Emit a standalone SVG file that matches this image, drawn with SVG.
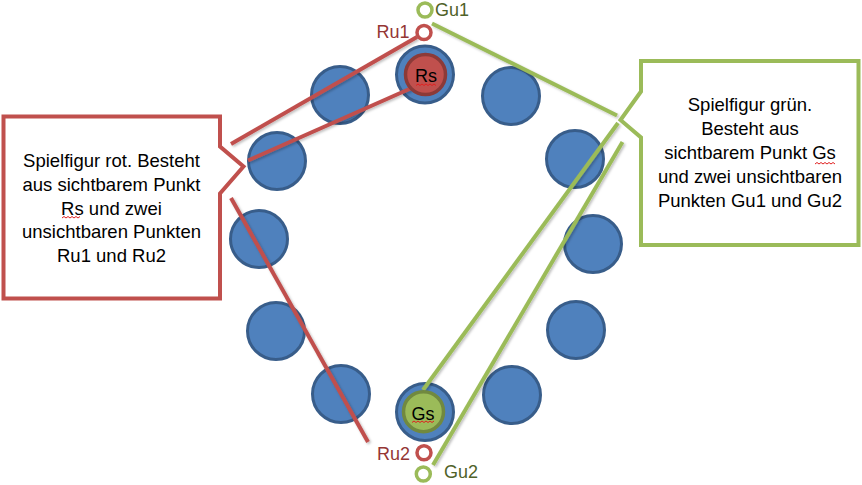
<svg xmlns="http://www.w3.org/2000/svg" width="862" height="485" viewBox="0 0 862 485">
<style>
.spot{fill:#4F81BD;stroke:#385D8A;stroke-width:3}
.rl{stroke:#C0504D;stroke-width:4;fill:none}
.gl{stroke:#9BBB59;stroke-width:4;fill:none}
.ring-r{fill:#FFFFFF;stroke:#C0504D;stroke-width:3.5}
.ring-g{fill:#FFFFFF;stroke:#9BBB59;stroke-width:3.5}
.lbl{font-family:"Liberation Sans",Arial,sans-serif;font-size:18px}
.txt{font-family:"Liberation Sans",Arial,sans-serif;font-size:18.5px;fill:#000;text-anchor:middle}
.sq{fill:none;stroke:#E02020;stroke-width:1}
</style>
<defs>
<filter id="sh" x="-10%" y="-10%" width="130%" height="130%">
<feDropShadow dx="1.5" dy="1.5" stdDeviation="1.2" flood-color="#000" flood-opacity="0.25"/>
</filter>
</defs>
<rect width="862" height="485" fill="#FFFFFF"/>
<g id="spots">
<circle class="spot" cx="425" cy="74.5" r="28.5"/>
<circle class="spot" cx="340" cy="95" r="28.5"/>
<circle class="spot" cx="511" cy="96" r="28.5"/>
<circle class="spot" cx="277" cy="161" r="28.5"/>
<circle class="spot" cx="575" cy="159" r="28.5"/>
<circle class="spot" cx="259" cy="239" r="28.5"/>
<circle class="spot" cx="593" cy="244" r="28.5"/>
<circle class="spot" cx="276" cy="331" r="28.5"/>
<circle class="spot" cx="576" cy="330" r="28.5"/>
<circle class="spot" cx="341" cy="394" r="28.5"/>
<circle class="spot" cx="512" cy="395" r="28.5"/>
<circle class="spot" cx="425" cy="412" r="28.5"/>
</g>
<g id="connectors" filter="url(#sh)">
<line class="rl" x1="231" y1="144" x2="417" y2="37"/>
<line class="rl" x1="248" y1="160.5" x2="410.5" y2="88.5"/>
<line class="rl" x1="231" y1="198" x2="368" y2="442"/>
<line class="gl" x1="432" y1="23.5" x2="617" y2="115.5"/>
<line class="gl" x1="423" y1="390" x2="618" y2="123"/>
<line class="gl" x1="433" y1="465" x2="622.5" y2="142"/>
</g>
<g id="Rs">
<circle cx="425.5" cy="74.5" r="20" fill="#C0504D" stroke="#8C3A38" stroke-width="3.5"/>
<text class="lbl" x="426" y="81.5" font-size="17" text-anchor="middle" fill="#000">Rs</text>
<path class="sq" d="M416 85.5 l2 -1.5 l2 1.5 l2 -1.5 l2 1.5 l2 -1.5 l2 1.5 l2 -1.5 l2 1.5 l2 -1.5 l2 1.5"/>
</g>
<g id="Gs">
<circle cx="423.5" cy="411.7" r="20" fill="#9BBB59" stroke="#71893F" stroke-width="3.5"/>
<text class="lbl" x="423" y="420" font-size="17" text-anchor="middle" fill="#000">Gs</text>
<path class="sq" d="M412 422.5 l2 -1.5 l2 1.5 l2 -1.5 l2 1.5 l2 -1.5 l2 1.5 l2 -1.5 l2 1.5 l2 -1.5 l2 1.5 l2 -1.5"/>
</g>
<g id="Gu1">
<circle class="ring-g" cx="425" cy="10" r="7"/>
<text class="lbl" x="435" y="16" fill="#4F6228">Gu1</text>
</g>
<g id="Ru1">
<circle class="ring-r" cx="424" cy="32.5" r="7"/>
<text class="lbl" x="376.5" y="37.5" fill="#943634">Ru1</text>
</g>
<g id="Ru2">
<circle class="ring-r" cx="424" cy="452.7" r="7"/>
<text class="lbl" x="377" y="459.5" fill="#943634">Ru2</text>
</g>
<g id="Gu2">
<circle class="ring-g" cx="423.3" cy="474" r="7"/>
<text class="lbl" x="444" y="477.5" fill="#4F6228">Gu2</text>
</g>
<g id="callout-red">
<path d="M3.5 116.5 H220 V146.5 L243.5 166.5 L220 193.5 V298.5 H3.5 Z" fill="#FFFFFF" stroke="#C0504D" stroke-width="4" stroke-linejoin="miter"/>
<text class="txt" x="111.5" y="166.7">Spielfigur rot. Besteht</text>
<text class="txt" x="111.5" y="190.6">aus sichtbarem Punkt</text>
<text class="txt" x="111.5" y="214.5">Rs und zwei</text>
<text class="txt" x="111.5" y="238.4">unsichtbaren Punkten</text>
<text class="txt" x="111.5" y="262.3">Ru1 und Ru2</text>
<path class="sq" d="M62 218 l2 -1.5 l2 1.5 l2 -1.5 l2 1.5 l2 -1.5 l2 1.5 l2 -1.5 l2 1.5 l2 -1.5"/>
</g>
<g id="callout-green">
<path d="M641 61 H858.5 V245 H641 V137.5 L620.5 120 L641 91.5 Z" fill="#FFFFFF" stroke="#9BBB59" stroke-width="4" stroke-linejoin="miter"/>
<text class="txt" x="750" y="111">Spielfigur grün.</text>
<text class="txt" x="750" y="135.1">Besteht aus</text>
<text class="txt" x="750" y="159.2">sichtbarem Punkt Gs</text>
<text class="txt" x="750" y="183.3">und zwei unsichtbaren</text>
<text class="txt" x="750" y="207.4">Punkten Gu1 und Gu2</text>
<path class="sq" d="M815 164 l2 -1.5 l2 1.5 l2 -1.5 l2 1.5 l2 -1.5 l2 1.5 l2 -1.5 l2 1.5 l2 -1.5 l2 1.5"/>
</g>
</svg>
